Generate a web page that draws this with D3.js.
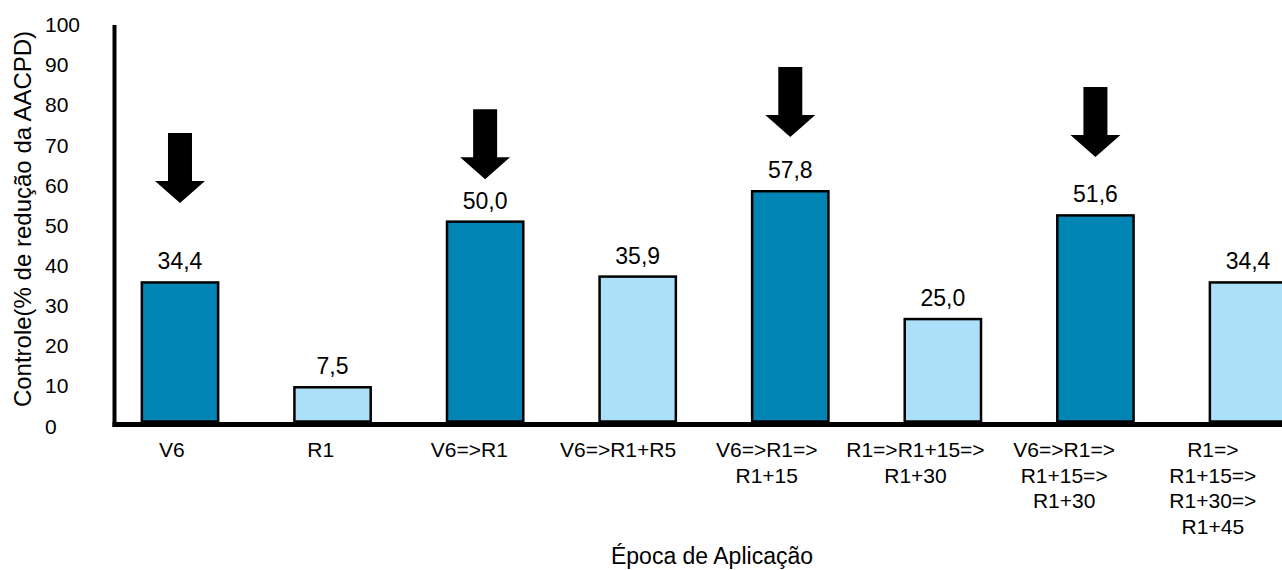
<!DOCTYPE html>
<html>
<head>
<meta charset="utf-8">
<script src="https://cdn.jsdelivr.net/npm/d3@7"></script>
<style>
  html, body { margin: 0; padding: 0; background: #fff; }
  svg { display: block; font-family: "Liberation Sans", Arial, sans-serif; }
</style>
</head>
<body>
<svg id="chart" width="1282" height="570"></svg>
<script>
// Application timings (categories)
const categories = [
  "V6", "R1", "V6=>R1", "V6=>R1+R5", "V6=>R1=>R1+15",
  "R1=>R1+15=>R1+30", "V6=>R1=>R1+15=>R1+30", "R1=>R1+15=>R1+30=>R1+45"
];
// Tick labels, broken into lines
const tickLabels = [
  ["V6"], ["R1"], ["V6=>R1"], ["V6=>R1+R5"], ["V6=>R1=>", "R1+15"],
  ["R1=>R1+15=>", "R1+30"], ["V6=>R1=>", "R1+15=>", "R1+30"],
  ["R1=>", "R1+15=>", "R1+30=>", "R1+45"]
];
// Control (% reduction of AUDPC)
const values = [34.4, 7.5, 50.0, 35.9, 57.8, 25.0, 51.6, 34.4];
// Programme type: starts at V6 or not
const groups = ["V6", "R1", "V6", "R1", "V6", "R1", "V6", "R1"];
// Arrows marking the V6-started programmes (tip level in axis units)
const arrowAt = ["V6", "V6=>R1", "V6=>R1=>R1+15", "V6=>R1=>R1+15=>R1+30"];
const arrowLevel = [54.8, 60.9, 71.7, 66.6];
const yTicks = [0, 10, 20, 30, 40, 50, 60, 70, 80, 90, 100];

const colors = { V6: "#0084B4", R1: "#ACE0F9" };
const fmt = v => d3.format(".1f")(v).replace(".", ",");

const svg = d3.select("#chart");
const baseY = 424.5;

// Scales
const x = d3.scaleBand().domain(categories)
  .range([103.7, 1324.3]).paddingInner(0.5).paddingOuter(0.25);
const xLabel = d3.scaleBand().domain(categories).range([97.6, 1287.2]);
const y = d3.scaleLinear().domain([0, 100]).range([416.5, 26.8]);
const yTick = d3.scaleLinear().domain([0, 100]).range([426, 24.5]);

// Bars
svg.append("g").selectAll("rect")
  .data(categories)
  .join("rect")
  .attr("x", d => x(d))
  .attr("width", x.bandwidth())
  .attr("y", (d, i) => y(values[i]))
  .attr("height", (d, i) => baseY - 3 - y(values[i]))
  .attr("fill", (d, i) => colors[groups[i]])
  .attr("stroke", "#000")
  .attr("stroke-width", 2.5);

// Value labels
svg.append("g").selectAll("text")
  .data(categories)
  .join("text")
  .attr("x", d => x(d) + x.bandwidth() / 2)
  .attr("y", (d, i) => y(values[i]) - 13)
  .attr("text-anchor", "middle")
  .attr("font-size", 23)
  .attr("fill", "#000")
  .text((d, i) => fmt(values[i]));

// Arrows
const arrowPath = "M-12,-70L12,-70L12,-22L25,-22L0,0L-25,-22L-12,-22Z";
svg.append("g").selectAll("path")
  .data(arrowAt)
  .join("path")
  .attr("transform", (d, i) => `translate(${x(d) + x.bandwidth() / 2},${y(arrowLevel[i])})`)
  .attr("d", arrowPath)
  .attr("fill", "#000");

// Y axis tick labels
const yAxis = svg.append("g")
  .attr("transform", "translate(45,0)")
  .call(d3.axisRight(yTick).tickValues(yTicks).tickSize(0).tickPadding(0));
yAxis.select(".domain").remove();
yAxis.selectAll("text")
  .attr("font-size", 21)
  .attr("font-family", "Liberation Sans, Arial, sans-serif")
  .attr("fill", "#000")
  .attr("dy", "0.34em");

// X axis tick labels
const xAxis = svg.append("g")
  .attr("transform", `translate(0,${baseY})`)
  .call(d3.axisBottom(xLabel).tickSize(0).tickPadding(0));
xAxis.select(".domain").remove();
xAxis.selectAll(".tick text")
  .attr("font-size", 21)
  .attr("font-family", "Liberation Sans, Arial, sans-serif")
  .attr("fill", "#000")
  .attr("y", 32.5)
  .attr("dy", null)
  .each(function (d, i) {
    const t = d3.select(this).text("");
    tickLabels[i].forEach((line, j) => {
      t.append("tspan").attr("x", 0).attr("dy", j === 0 ? 0 : 25.5).text(line);
    });
  });

// Axis lines
svg.append("line")
  .attr("x1", 114.5).attr("x2", 114.5)
  .attr("y1", 25).attr("y2", 427)
  .attr("stroke", "#000").attr("stroke-width", 4);
svg.append("line")
  .attr("x1", 112.5).attr("x2", 1282)
  .attr("y1", baseY).attr("y2", baseY)
  .attr("stroke", "#000").attr("stroke-width", 5);

// Axis titles
svg.append("text")
  .attr("transform", "translate(31,219) rotate(-90)")
  .attr("text-anchor", "middle")
  .attr("font-size", 24)
  .attr("fill", "#000")
  .text("Controle(% de redução da AACPD)");
svg.append("text")
  .attr("x", 712).attr("y", 564)
  .attr("text-anchor", "middle")
  .attr("font-size", 23)
  .attr("fill", "#000")
  .text("Época de Aplicação");
</script>
</body>
</html>
